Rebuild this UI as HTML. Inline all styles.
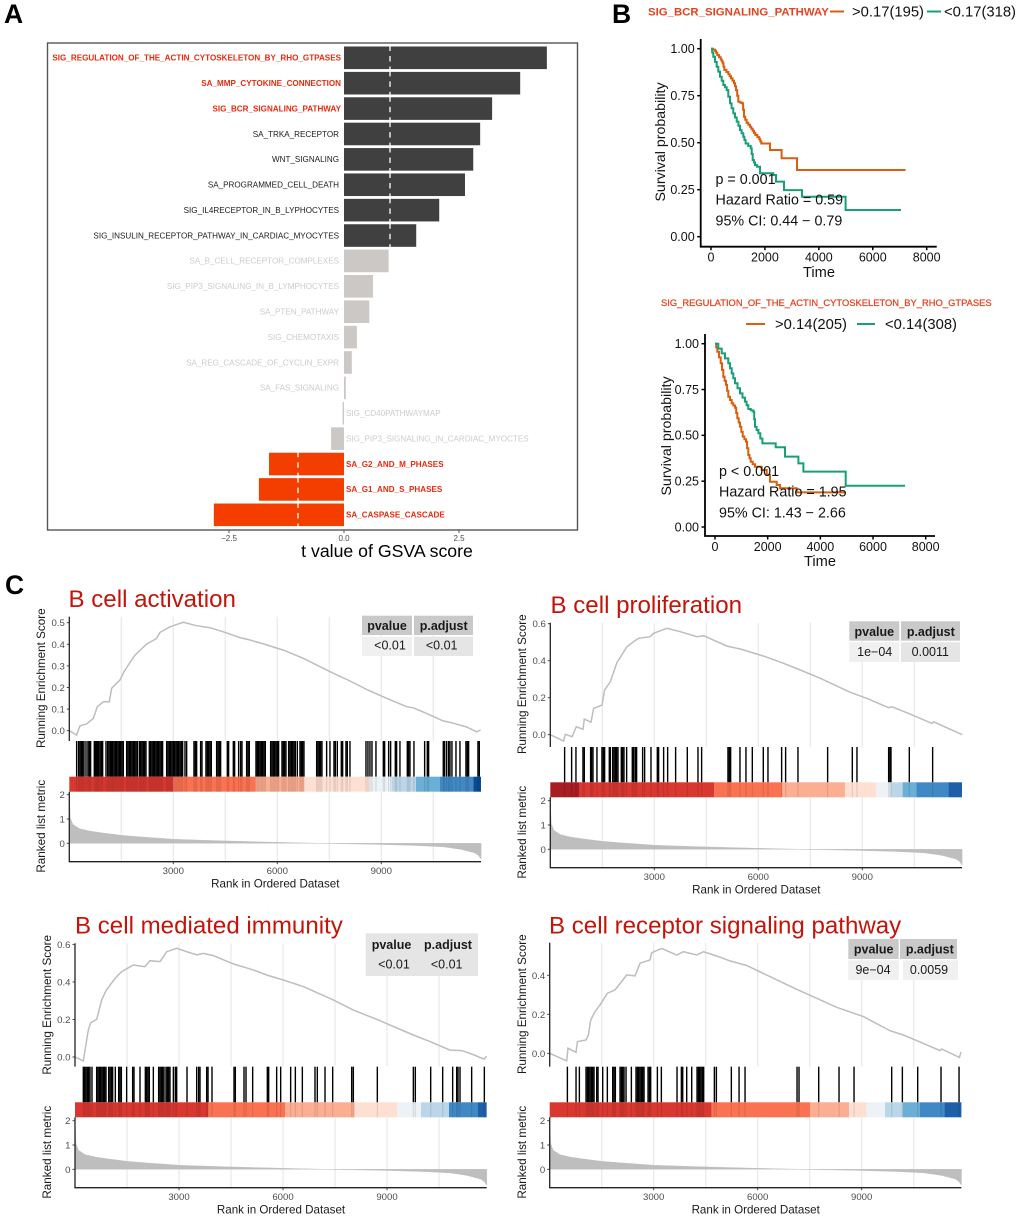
<!DOCTYPE html>
<html>
<head>
<meta charset="utf-8">
<title>GSVA, survival and GSEA figure</title>
<style>
html,body{margin:0;padding:0;background:#fff;}
svg{display:block;font-family:"Liberation Sans",sans-serif;}
</style>
</head>
<body>
<svg id="fig" xmlns="http://www.w3.org/2000/svg" width="1020" height="1218" viewBox="0 0 1020 1218"></svg>
<script>
/* ---------- Panel A data ---------- */
const barCategories = ["SIG_REGULATION_OF_THE_ACTIN_CYTOSKELETON_BY_RHO_GTPASES","SA_MMP_CYTOKINE_CONNECTION","SIG_BCR_SIGNALING_PATHWAY","SA_TRKA_RECEPTOR","WNT_SIGNALING","SA_PROGRAMMED_CELL_DEATH","SIG_IL4RECEPTOR_IN_B_LYPHOCYTES","SIG_INSULIN_RECEPTOR_PATHWAY_IN_CARDIAC_MYOCYTES","SA_B_CELL_RECEPTOR_COMPLEXES","SIG_PIP3_SIGNALING_IN_B_LYMPHOCYTES","SA_PTEN_PATHWAY","SIG_CHEMOTAXIS","SA_REG_CASCADE_OF_CYCLIN_EXPR","SA_FAS_SIGNALING","SIG_CD40PATHWAYMAP","SIG_PIP3_SIGNALING_IN_CARDIAC_MYOCTES","SA_G2_AND_M_PHASES","SA_G1_AND_S_PHASES","SA_CASPASE_CASCADE"];
const barValues = [4.41,3.83,3.22,2.96,2.81,2.63,2.07,1.57,0.97,0.63,0.55,0.28,0.17,0.04,-0.03,-0.28,-1.63,-1.85,-2.83];
const barHighlighted = [true,true,true,false,false,false,false,false,false,false,false,false,false,false,false,false,true,true,true];
const barAxisTicks = [-2.5,0,2.5];
const barAxisLabels = ["\u22122.5","0.0","2.5"];
const barThreshold = 1;

/* ---------- Panel B data ---------- */
const kmTimeTicks = [0,2000,4000,6000,8000];
const kmSurvTicks = [0,0.25,0.5,0.75,1];
const kmSurvLabels = ["0.00","0.25","0.50","0.75","1.00"];
const km1HighTimes = [0,70,148,190,235,300,358,395,433,465,494,570,643,690,742,800,853,890,927,970,1013,1090,1162,1190,1224,1270,1322,1385,1446,1495,1545,1595,1644,1720,1792,1830,1866,2188,2620,3189,7218];
const km1HighSurv = [1,0.995,0.989,0.978,0.966,0.955,0.943,0.933,0.922,0.905,0.887,0.876,0.865,0.854,0.842,0.83,0.816,0.8,0.78,0.75,0.718,0.713,0.709,0.675,0.638,0.622,0.606,0.595,0.585,0.574,0.564,0.552,0.541,0.53,0.518,0.507,0.496,0.461,0.417,0.355,0.355];
const km1LowTimes = [0,45,87,150,210,270,334,395,457,520,581,640,705,765,828,890,952,1015,1075,1135,1199,1240,1285,1380,1471,1510,1545,1590,1631,1710,1817,2311,2410,2707,3374,4993,7045];
const km1LowSurv = [1,0.98,0.957,0.93,0.904,0.878,0.851,0.83,0.807,0.795,0.78,0.745,0.709,0.683,0.656,0.634,0.612,0.59,0.567,0.55,0.532,0.515,0.496,0.483,0.47,0.44,0.408,0.395,0.381,0.372,0.337,0.328,0.293,0.248,0.213,0.142,0.142];
const km2HighTimes = [0,45,89,150,215,265,317,365,418,460,506,570,633,695,760,805,848,900,950,1000,1051,1115,1177,1220,1266,1310,1355,1430,1519,1772,1962,2089,2342,2469,3102,4963];
const km2HighSurv = [1,0.98,0.956,0.925,0.893,0.857,0.82,0.797,0.775,0.743,0.711,0.693,0.675,0.663,0.651,0.622,0.593,0.57,0.547,0.52,0.493,0.479,0.465,0.43,0.393,0.375,0.356,0.342,0.329,0.311,0.284,0.247,0.229,0.211,0.189,0.189];
const km2LowTimes = [0,125,253,380,506,570,633,695,760,855,950,1045,1139,1200,1266,1360,1456,1490,1519,1580,1646,1720,1798,2304,2659,3165,3355,4963,7216];
const km2LowSurv = [1,0.973,0.947,0.92,0.893,0.866,0.838,0.811,0.784,0.757,0.729,0.706,0.684,0.664,0.644,0.636,0.629,0.588,0.547,0.529,0.511,0.483,0.456,0.435,0.384,0.347,0.302,0.225,0.225];

/* ---------- Panel C data ---------- */
const rankTicks = [3000,6000,9000];
const rankGrid = [1500,3000,4500,6000,7500,9000,10500];
const metricTicks = [0,1,2];
const metricRanks = [0,30,100,300,600,1000,1500,2000,3000,4000,5000,6000,7000,8000,9000,10000,10800,11300,11700,11800,11880];
const metricValues = [2,1.05,0.78,0.6,0.5,0.42,0.33,0.27,0.17,0.12,0.08,0.04,0.01,-0.02,-0.05,-0.09,-0.15,-0.25,-0.4,-0.5,-0.65];

const gsea1Ranks = [0,212,308,500,692,808,981,1154,1221,1462,1577,1702,1894,2231,2519,2615,2904,3288,3673,4058,4442,4923,5212,5692,6173,6750,7519,8096,8577,9154,9731,9923,10308,10788,10981,11462,11750,11865];
const gsea1Scores = [0,-0.02,0.023,0.031,0.057,0.111,0.134,0.134,0.196,0.235,0.273,0.304,0.35,0.401,0.427,0.455,0.481,0.502,0.486,0.477,0.458,0.431,0.42,0.397,0.373,0.335,0.273,0.23,0.191,0.15,0.111,0.106,0.08,0.045,0.039,0.017,-0.005,0.003];
const gsea1Ticks = [0,0.1,0.2,0.3,0.4,0.5];
const gsea1Hits = [212,269,308,346,385,423,481,538,577,615,721,760,788,817,846,885,923,962,1058,1106,1144,1183,1221,1250,1288,1327,1365,1404,1442,1481,1519,1558,1654,1692,1731,1769,1808,1846,1885,1923,1962,2019,2058,2096,2135,2173,2212,2308,2346,2385,2423,2462,2500,2538,2577,2615,2654,2692,2808,2846,2885,2923,2962,3000,3038,3077,3115,3154,3192,3231,3269,3337,3385,3596,3635,3673,3788,3827,3942,3981,4019,4058,4096,4250,4288,4327,4365,4558,4596,4731,4769,4885,4942,4981,5115,5154,5192,5385,5423,5462,5500,5538,5577,5615,5654,5808,5846,5885,5923,5962,6000,6038,6135,6173,6212,6250,6327,6365,6404,6442,6481,6519,6577,6654,6692,6731,6769,7135,7173,7212,7250,7288,7423,7519,7635,7673,7731,7846,7885,7981,8019,8096,8558,8615,8673,8731,8846,9058,9096,9212,9269,9404,9442,9538,9750,9788,9827,9942,10250,10327,10365,10788,10827,10885,10942,10981,11038,11154,11269,11442,11481,11519,11788,11827];
const gsea1BandEnds = [3000,5375,6769,8654,9298,10000,10692,11654,11880];
const gsea1BandLevels = [4,3,2,1,0,-1,-2,-3,-5];

const gsea2Ranks = [0,385,433,625,750,942,981,1173,1250,1490,1567,1731,1923,2212,2404,2548,2885,2981,3365,3750,4231,4423,5096,5481,6154,6731,7212,7788,8654,9135,9760,9856,10337,11010,11058,11885];
const gsea2Scores = [0,-0.034,0.002,-0.011,0.043,0.029,0.085,0.067,0.142,0.16,0.241,0.286,0.391,0.476,0.503,0.521,0.53,0.548,0.575,0.557,0.53,0.535,0.479,0.463,0.425,0.386,0.35,0.305,0.229,0.196,0.146,0.151,0.115,0.061,0.07,0];
const gsea2Ticks = [0,0.2,0.4,0.6];
const gsea2Hits = [413,615,740,942,981,1163,1192,1231,1346,1490,1529,1567,1702,1731,1798,1837,1875,1913,1952,2048,2087,2125,2202,2365,2404,2452,2490,2663,2721,2904,3087,3125,3269,3385,3615,3952,4260,4365,5125,5163,5202,5471,5644,5827,6144,6279,6673,6788,7144,8000,8712,8846,9760,9798,9827,10356,11029];
const gsea2BandEnds = [846,4731,6692,8500,9394,9827,10163,10558,11480,11885];
const gsea2BandLevels = [5,4,3,2,1,0,-1,-2,-3,-4];

const gsea3Ranks = [0,240,385,452,625,769,894,1154,1346,1683,2019,2163,2452,2644,2933,3221,3510,3702,3990,4567,5144,5529,6010,6587,7452,8029,8702,9760,10240,10817,11154,11442,11798,11875];
const gsea3Scores = [0,-0.021,0.144,0.183,0.201,0.304,0.353,0.419,0.455,0.49,0.481,0.513,0.508,0.561,0.579,0.561,0.544,0.552,0.54,0.496,0.464,0.437,0.41,0.375,0.304,0.25,0.201,0.117,0.082,0.037,0.034,0.016,-0.011,0.005];
const gsea3Ticks = [0,0.2,0.4,0.6];
const gsea3Hits = [240,279,317,356,394,433,490,625,663,702,740,779,817,856,894,971,1010,1048,1087,1163,1260,1298,1337,1490,1663,1702,1875,2029,2067,2106,2144,2260,2413,2452,2490,2529,2567,2625,2663,2702,2740,2837,2894,2933,3231,3510,3567,3606,3798,3837,3952,4587,4625,4875,4933,5125,5548,5587,5817,5933,6221,6356,6558,6923,6990,7212,7433,7981,8029,8721,9760,9817,10260,10606,10894,11010,11048,11106,11442,11808];
const gsea3BandEnds = [3846,6058,8067,9298,9981,10788,11625,11875];
const gsea3BandLevels = [4,3,2,1,0,-1,-3,-4];

const gsea4Ranks = [0,490,529,760,798,1048,1115,1183,1308,1452,1663,1885,2077,2221,2462,2606,2894,2942,3231,3663,3856,4240,4433,4817,5202,5683,7125,8279,9048,9817,10202,10587,11260,11308,11817,11865];
const gsea4Scores = [0,-0.039,0.026,0.005,0.06,0.068,0.094,0.171,0.214,0.248,0.308,0.325,0.368,0.402,0.397,0.462,0.479,0.516,0.538,0.504,0.521,0.504,0.521,0.499,0.474,0.45,0.328,0.236,0.188,0.116,0.094,0.065,0.014,0.022,-0.021,0.007];
const gsea4Ticks = [0,0.2,0.4];
const gsea4Hits = [510,760,856,1048,1087,1125,1163,1202,1240,1279,1356,1394,1529,1663,1817,1856,1894,2029,2067,2106,2144,2202,2356,2490,2529,2567,2606,2644,2683,2721,2837,2875,2913,3106,3221,3673,3798,3837,3952,4096,4250,4288,4327,4365,4404,4442,4750,4808,5240,5462,5635,7135,7192,7760,8346,8779,9865,10173,10615,11288,11808];
const gsea4BandEnds = [4673,7510,8635,9144,9673,10183,10673,11385,11885];
const gsea4BandLevels = [4,3,2,1,0,-1,-2,-3,-4];

/* ---------- drawing helpers ---------- */
const NS = "http://www.w3.org/2000/svg";
const root = document.getElementById("fig");
function add(parent, tag, attrs, text) {
  const el = document.createElementNS(NS, tag);
  for (const k in attrs) el.setAttribute(k, attrs[k]);
  if (text !== undefined) el.textContent = text;
  parent.appendChild(el);
  return el;
}
function group(label) {
  const g = add(root, "g", {});
  
  
  return g;
}
function stepPath(times, surv, sx, sy) {
  let d = "M" + sx(times[0]).toFixed(1) + " " + sy(surv[0]).toFixed(1);
  for (let i = 1; i < times.length; i++) {
    d += "H" + sx(times[i]).toFixed(1) + "V" + sy(surv[i]).toFixed(1);
  }
  return d;
}

/* ---------- panel letters ---------- */
[["A",4,23],["B",612,23],["C",5,594]].forEach(function (p) {
  const t = add(root, "text", {x:p[1], y:p[2], "font-size":26.5, "font-weight":"bold", fill:"#000"}, p[0]);
  
  
});

/* ---------- Panel A ---------- */
(function () {
  const g = group("gsva-bar-chart");
  const zeroX = 344, unit = 46, firstY = 57.8, stepY = 25.39, barH = 22.6;
  const sx = v => zeroX + v * unit;
  const sy = i => firstY + i * stepY;
  const frame = add(g, "rect", {x:47.5, y:43, width:530, height:487, fill:"none", stroke:"#555", "stroke-width":1.4});
  
  
  barCategories.forEach(function (name, i) {
    const v = barValues[i];
    const hi = barHighlighted[i];
    const color = v > 0 ? (hi || i < 8 ? "#404040" : "#cbc8c6") : (hi ? "#f33e00" : "#cbc8c6");
    const isDark = i < 8;
    const rect = add(g, "rect", {x:Math.min(sx(0), sx(v)), y:sy(i) - barH / 2, width:Math.max(Math.abs(sx(v) - sx(0)), 1), height:barH, fill:isDark ? "#404040" : color});
    
    
    const labelColor = hi ? "#e62b10" : (isDark ? "#1a1a1a" : "#cccccc");
    const isRight = v < 0;
    const label = add(g, "text", {
      x: isRight ? sx(0) + 2 : sx(0) - (hi ? 3 : 5),
      y: sy(i) + 2.8,
      "text-anchor": isRight ? "start" : "end",
      "font-size": 8.1,
      "font-weight": hi ? "bold" : "normal",
      fill: labelColor
    }, name);
    
    
    if (hi || isDark) {
      const threshold = v > 0 ? barThreshold : -barThreshold;
      const dash = add(g, "line", {x1:sx(threshold), x2:sx(threshold), y1:sy(i) - barH / 2 - 1, y2:sy(i) + barH / 2 + 1, stroke:"#fff", "stroke-width":1.3, "stroke-dasharray":"5.5 5"});
      
      
    }
  });
  barAxisTicks.forEach(function (t, i) {
    const tick = add(g, "line", {x1:sx(t), x2:sx(t), y1:530, y2:533, stroke:"#555", "stroke-width":1});
    
    
    const lab = add(g, "text", {x:sx(t), y:541, "text-anchor":"middle", "font-size":8, fill:"#4d4d4d"}, barAxisLabels[i]);
    
    
  });
  const title = add(g, "text", {x:387, y:557, "text-anchor":"middle", "font-size":17.7, fill:"#000"}, "t value of GSVA score");
  
  
})();

/* ---------- Panel B ---------- */
function drawKM(cfg) {
  const g = group(cfg.name);
  const sx = t => cfg.x0 + t * (cfg.x8000 - cfg.x0) / 8000;
  const sy = s => cfg.y0 + s * (cfg.y1 - cfg.y0);
  const high = add(g, "path", {d:stepPath(cfg.highT, cfg.highS, sx, sy), fill:"none", stroke:"#d95f0e", "stroke-width":2});
  
  
  const low = add(g, "path", {d:stepPath(cfg.lowT, cfg.lowS, sx, sy), fill:"none", stroke:"#17a077", "stroke-width":2});
  
  
  const axes = add(g, "path", {d:"M" + cfg.axX + " " + cfg.axTop + "V" + cfg.axY + "H" + cfg.axRight, fill:"none", stroke:"#000", "stroke-width":1.8});
  
  
  kmTimeTicks.forEach(function (t) {
    const tick = add(g, "line", {x1:sx(t), x2:sx(t), y1:cfg.axY, y2:cfg.axY + 3.5, stroke:"#000", "stroke-width":1.5});
    
    
    const lab = add(g, "text", {x:sx(t), y:cfg.axY + 15, "text-anchor":"middle", "font-size":12.5, fill:"#111"}, String(t));
    
    
  });
  kmSurvTicks.forEach(function (s, i) {
    const tick = add(g, "line", {x1:cfg.axX - 3.5, x2:cfg.axX, y1:sy(s), y2:sy(s), stroke:"#000", "stroke-width":1.5});
    
    
    const lab = add(g, "text", {x:cfg.axX - 6, y:sy(s) + 4.3, "text-anchor":"end", "font-size":12.5, fill:"#111"}, kmSurvLabels[i]);
    
    
  });
  const xt = add(g, "text", {x:cfg.timeX, y:cfg.timeY, "text-anchor":"middle", "font-size":14.6, fill:"#111"}, "Time");
  
  
  const yt = add(g, "text", {transform:"translate(" + cfg.yTitleX + "," + cfg.yTitleY + ") rotate(-90)", "text-anchor":"middle", "font-size":14.2, fill:"#111"}, "Survival probability");
  
  
  cfg.stats.forEach(function (s, i) {
    const st = add(g, "text", {x:cfg.statX, y:cfg.statY + i * 20.7, "font-size":14.3, fill:"#111"}, s);
    
    
  });
  const lt = add(g, "text", {x:cfg.legTitleX, y:cfg.legTitleY, "font-size":cfg.legTitleSize, "font-weight":cfg.legTitleWeight, fill:"#e5431f", stroke:"#e5431f", "stroke-width":cfg.legTitleStroke}, cfg.legTitle);
  
  
  cfg.legend.forEach(function (e) {
    const key = add(g, "line", {x1:e.x1, x2:e.x2, y1:cfg.legY, y2:cfg.legY, stroke:e.color, "stroke-width":2});
    
    
    const txt = add(g, "text", {x:e.tx, y:cfg.legY + 5, "font-size":14.8, fill:"#111"}, e.text);
    
    
  });
}
drawKM({name:"survival-plot-bcr", x0:711, x8000:926.7, y0:236.7, y1:48.7, axX:700.7, axY:246.7, axTop:39, axRight:936.7,
  highT:km1HighTimes, highS:km1HighSurv, lowT:km1LowTimes, lowS:km1LowSurv, timeX:819, timeY:277, yTitleX:665, yTitleY:142,
  stats:["p = 0.001","Hazard Ratio = 0.59","95% CI: 0.44 \u2212 0.79"], statX:715.5, statY:184,
  legTitle:"SIG_BCR_SIGNALING_PATHWAY", legTitleX:648, legTitleY:15.5, legTitleSize:11.4, legTitleWeight:"bold", legTitleStroke:0, legY:11.5,
  legend:[{x1:830,x2:844,color:"#d95f0e",tx:852,text:">0.17(195)"},{x1:927,x2:941,color:"#17a077",tx:944,text:"<0.17(318)"}]});
drawKM({name:"survival-plot-rho", x0:715, x8000:925.7, y0:527, y1:343.7, axX:705, axY:536, axTop:334, axRight:935,
  highT:km2HighTimes, highS:km2HighSurv, lowT:km2LowTimes, lowS:km2LowSurv, timeX:820, timeY:566, yTitleX:671, yTitleY:436,
  stats:["p < 0.001","Hazard Ratio = 1.95","95% CI: 1.43 \u2212 2.66"], statX:719, statY:476,
  legTitle:"SIG_REGULATION_OF_THE_ACTIN_CYTOSKELETON_BY_RHO_GTPASES", legTitleX:661, legTitleY:306, legTitleSize:9.38, legTitleWeight:"normal", legTitleStroke:0.25, legY:324,
  legend:[{x1:746,x2:765,color:"#d95f0e",tx:775,text:">0.14(205)"},{x1:857,x2:875,color:"#17a077",tx:885,text:"<0.14(308)"}]});

/* ---------- Panel C ---------- */
const bandPalette = {"5":"#a81c24","4":"#d93831","3":"#fb7252","2":"#fcae92","1":"#fde0d2","0":"#edf2f7","-1":"#bbd6e8","-2":"#6baed6","-3":"#4189c4","-4":"#1f5fa8","-5":"#084a94"};
function drawGSEA(c) {
  const g = group(c.name);
  const sx = r => c.left + r * 104 / 3000;
  const sy = v => c.esZero - v * c.esUnit;
  const my = v => c.m0 - v * 24.3;
  const maxX = c.left + 411.7;
  rankGrid.forEach(function (r) {
    const a = add(g, "line", {x1:sx(r), x2:sx(r), y1:c.top, y2:c.rugTop, stroke:"#e9e9e9", "stroke-width":1.2});
    
    
    const b = add(g, "line", {x1:sx(r), x2:sx(r), y1:c.bandBottom, y2:c.bottom, stroke:"#e9e9e9", "stroke-width":1.2});
    
    
  });
  const tb = c.table;
  tb.rects.forEach(function (r) {
    const rc = add(g, "rect", {x:r[0], y:r[1], width:r[2] - r[0], height:r[3] - r[1], fill:r[4]});
    
    
  });
  tb.texts.forEach(function (t) {
    const tx = add(g, "text", {x:t[0], y:t[1], "text-anchor":"middle", "font-size":12.5, "font-weight":t[3] ? "bold" : "normal", fill:"#1a1a1a"}, t[2]);
    
    
  });
  let d = "";
  c.ranks.forEach(function (r, i) {
    d += (i ? "L" : "M") + sx(r).toFixed(1) + " " + sy(c.scores[i]).toFixed(1);
  });
  const curve = add(g, "path", {d:d, fill:"none", stroke:"#bdbdbd", "stroke-width":1.5});
  
  
  c.hits.forEach(function (r) {
    const h = add(g, "line", {x1:sx(r), x2:sx(r), y1:c.rugTop, y2:c.bandTop, stroke:"#000", "stroke-width":1.4});
    
    
  });
  let start = 0;
  c.bandEnds.forEach(function (end, i) {
    const seg = add(g, "rect", {x:sx(start), y:c.bandTop, width:Math.min(sx(end), maxX) - sx(start), height:c.bandBottom - c.bandTop, fill:bandPalette[String(c.bandLevels[i])]});
    
    
    start = end;
  });
  c.hits.forEach(function (r) {
    const h = add(g, "line", {x1:sx(r), x2:sx(r), y1:c.bandTop, y2:c.bandBottom, stroke:"#000", "stroke-width":1.2, "stroke-opacity":0.1});
    
    
  });
  let m = "M" + sx(0).toFixed(1) + " " + my(0).toFixed(1);
  metricRanks.forEach(function (r, i) {
    m += "L" + sx(r).toFixed(1) + " " + my(metricValues[i]).toFixed(1);
  });
  m += "L" + sx(metricRanks[metricRanks.length - 1]).toFixed(1) + " " + my(0).toFixed(1) + "Z";
  const area = add(g, "path", {d:m, fill:"#bebebe", stroke:"#bebebe", "stroke-width":0.4});
  
  
  const ax1 = add(g, "line", {x1:c.left, x2:c.left, y1:c.top, y2:c.rugTop, stroke:"#222", "stroke-width":1.3});
  
  
  const ax2 = add(g, "path", {d:"M" + c.left + " " + c.bandBottom + "V" + c.bottom + "H" + maxX, fill:"none", stroke:"#222", "stroke-width":1.3});
  
  
  c.esTicks.forEach(function (v) {
    const tk = add(g, "line", {x1:c.left - 2.5, x2:c.left, y1:sy(v), y2:sy(v), stroke:"#333", "stroke-width":0.9});
    
    
    const lb = add(g, "text", {x:c.left - 4.5, y:sy(v) + 3.5, "text-anchor":"end", "font-size":9.6, fill:"#4d4d4d"}, v.toFixed(1));
    
    
  });
  metricTicks.forEach(function (v) {
    const tk = add(g, "line", {x1:c.left - 2.5, x2:c.left, y1:my(v), y2:my(v), stroke:"#333", "stroke-width":0.9});
    
    
    const lb = add(g, "text", {x:c.left - 4.5, y:my(v) + 3.5, "text-anchor":"end", "font-size":9.6, fill:"#4d4d4d"}, String(v));
    
    
  });
  rankTicks.forEach(function (r) {
    const tk = add(g, "line", {x1:sx(r), x2:sx(r), y1:c.bottom, y2:c.bottom + 2.5, stroke:"#333", "stroke-width":0.9});
    
    
    const lb = add(g, "text", {x:sx(r), y:c.bottom + 12.3, "text-anchor":"middle", "font-size":9.6, fill:"#4d4d4d"}, String(r));
    
    
  });
  const rt = add(g, "text", {x:c.left + 206, y:c.bottom + 26, "text-anchor":"middle", "font-size":11.6, fill:"#1a1a1a"}, "Rank in Ordered Dataset");
  
  
  const e1 = add(g, "text", {transform:"translate(" + (c.labelX + 4) + "," + (c.top + 61.5) + ") rotate(-90)", "text-anchor":"middle", "font-size":11.7, fill:"#1a1a1a"}, "Running Enrichment Score");
  
  
  const e2 = add(g, "text", {transform:"translate(" + (c.labelX + 4) + "," + (c.bottom - 35.5) + ") rotate(-90)", "text-anchor":"middle", "font-size":11.7, fill:"#1a1a1a"}, "Ranked list metric");
  
  
  const tt = add(g, "text", {x:c.titleX, y:c.titleY, "font-size":24.1, fill:"#c4140a"}, c.title);
  
  
}
const H = "#c9c9c9", L = "#f0f0f0", M = "#e5e5e5";
drawGSEA({name:"gsea-b-cell-activation", title:"B cell activation", titleX:68.5, titleY:607, left:69.3, top:616.7, esZero:730.7, esUnit:216,
  rugTop:741, bandTop:776.7, bandBottom:791.7, m0:843.3, bottom:861.7, labelX:41,
  ranks:gsea1Ranks, scores:gsea1Scores, esTicks:gsea1Ticks, hits:gsea1Hits, bandEnds:gsea1BandEnds, bandLevels:gsea1BandLevels,
  table:{rects:[[362,615.7,412,635,H],[414,615.7,473,635,H],[362,636.7,412,656,L],[414,636.7,473,656,M]],
    texts:[[387,630,"pvalue",1],[443.7,630,"p.adjust",1],[390,649.3,"<0.01",0],[441.7,649.3,"<0.01",0]]}});
drawGSEA({name:"gsea-b-cell-proliferation", title:"B cell proliferation", titleX:550.5, titleY:613, left:550.3, top:622.7, esZero:734.7, esUnit:185,
  rugTop:747, bandTop:782.3, bandBottom:797.3, m0:849.3, bottom:867.7, labelX:522,
  ranks:gsea2Ranks, scores:gsea2Scores, esTicks:gsea2Ticks, hits:gsea2Hits, bandEnds:gsea2BandEnds, bandLevels:gsea2BandLevels,
  table:{rects:[[849.3,621.3,899.3,640.7,H],[901,621.3,960,640.7,H],[849.3,642.3,899.3,662,L],[901,642.3,960,662,M]],
    texts:[[874.3,636,"pvalue",1],[930.8,636,"p.adjust",1],[874.7,656,"1e\u221204",0],[930.3,656,"0.0011",0]]}});
drawGSEA({name:"gsea-b-cell-mediated-immunity", title:"B cell mediated immunity", titleX:75, titleY:933.3, left:75, top:943.3, esZero:1057, esUnit:187.7,
  rugTop:1066.7, bandTop:1102.3, bandBottom:1117.3, m0:1169.3, bottom:1187.7, labelX:47,
  ranks:gsea3Ranks, scores:gsea3Scores, esTicks:gsea3Ticks, hits:gsea3Hits, bandEnds:gsea3BandEnds, bandLevels:gsea3BandLevels,
  table:{rects:[[365.7,933.3,478,976,M]],
    texts:[[391.5,949,"pvalue",1],[448,949,"p.adjust",1],[394,968.7,"<0.01",0],[446.7,968.7,"<0.01",0]]}});
drawGSEA({name:"gsea-b-cell-receptor-signaling", title:"B cell receptor signaling pathway", titleX:549, titleY:933.3, left:549.7, top:942.7, esZero:1053.3, esUnit:195,
  rugTop:1066.7, bandTop:1102.3, bandBottom:1117.3, m0:1169.3, bottom:1187.7, labelX:522,
  ranks:gsea4Ranks, scores:gsea4Scores, esTicks:gsea4Ticks, hits:gsea4Hits, bandEnds:gsea4BandEnds, bandLevels:gsea4BandLevels,
  table:{rects:[[848.3,939,898.7,959,H],[900,939,957,959,H],[848.3,960.3,898.7,980,L],[903,960.3,958,980,L]],
    texts:[[873.7,953.3,"pvalue",1],[929.8,953.3,"p.adjust",1],[873,974,"9e\u221204",0],[929,974,"0.0059",0]]}});
</script>
</body>
</html>
